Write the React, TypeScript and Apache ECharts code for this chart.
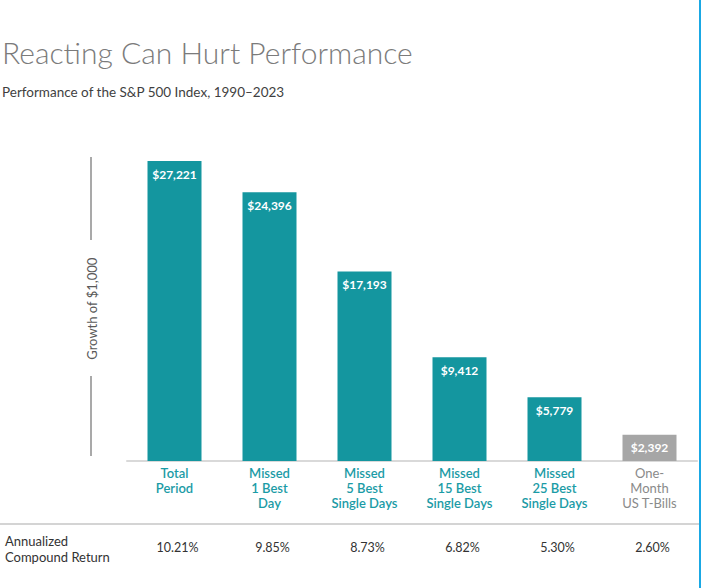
import React, { useEffect, useRef } from "react";
import * as echarts from "echarts";

const categories: string[][] = [
  ["Total", "Period"],
  ["Missed", "1 Best", "Day"],
  ["Missed", "5 Best", "Single Days"],
  ["Missed", "15 Best", "Single Days"],
  ["Missed", "25 Best", "Single Days"],
  ["One-", "Month", "US T-Bills"],
];
const growthValues = [27221, 24396, 17193, 9412, 5779, 2392];
const annualReturns = ["10.21%", "9.85%", "8.73%", "6.82%", "5.30%", "2.60%"];
const isBenchmark = [false, false, false, false, false, true];

const TEAL = "#14969f";
const GRAY_BAR = "#a6a6a6";

export default function App() {
  const ref = useRef<HTMLDivElement>(null);
  useEffect(() => {
    document.body.style.margin = "0";
    const chart = echarts.init(ref.current!, undefined, { renderer: "svg" });
    const font = "Lato, 'Noto Sans', sans-serif";
    const catKeys = categories.map((_, i) => String(i));
    chart.setOption({
      animation: false,
      backgroundColor: "#ffffff",
      title: {
        text: "Reacting Can Hurt Performance",
        subtext: "Performance of the S&P 500 Index, 1990–2023",
        left: 2,
        top: 37,
        itemGap: 18,
        padding: 0,
        textStyle: { fontFamily: font, fontSize: 30, fontWeight: 300, color: "#7b7b7b" },
        subtextStyle: { fontFamily: font, fontSize: 13.5, fontWeight: 400, color: "#3f3f3f" },
      },
      grid: { left: 127, width: 570, top: 130.4, height: 330.6 },
      xAxis: [
        {
          type: "category",
          data: catKeys,
          position: "bottom",
          axisLine: { show: true, lineStyle: { color: "#d9d9d9", width: 2 } },
          axisTick: { show: false },
          axisLabel: {
            margin: 4,
            interval: 0,
            formatter: (v: string) => {
              const i = Number(v);
              const tag = isBenchmark[i] ? "g" : "t";
              return categories[i].map((l) => `{${tag}|${l}}`).join("\n");
            },
            rich: {
              t: { fontFamily: font, fontSize: 13, fontWeight: 600, color: "#1b9ba6", lineHeight: 15, align: "center" },
              g: { fontFamily: font, fontSize: 13, fontWeight: 400, color: "#8a8a8a", lineHeight: 15, align: "center" },
            },
          },
        },
        {
          type: "category",
          data: annualReturns,
          position: "bottom",
          offset: 80,
          axisLine: { show: false },
          axisTick: { show: false },
          axisLabel: {
            margin: 0,
            interval: 0,
            fontFamily: font,
            fontSize: 12.5,
            color: "#333333",
            padding: [0, 0, 0, 6],
          },
        },
      ],
      yAxis: {
        type: "value",
        min: 0,
        max: 30000,
        axisLabel: { show: false },
        axisLine: { show: false },
        axisTick: { show: false },
        splitLine: { show: false },
        name: "Growth of $1,000",
        nameLocation: "middle",
        nameRotate: 90,
        nameGap: 29,
        nameTextStyle: { fontFamily: font, fontSize: 13, color: "#5a5a5a", padding: [0, 26, 0, 0] },
      },
      series: [
        {
          type: "bar",
          xAxisIndex: 0,
          barWidth: 54,
          data: growthValues.map((v, i) => ({
            value: v,
            itemStyle: { color: isBenchmark[i] ? GRAY_BAR : TEAL },
          })),
          label: {
            show: true,
            position: "insideTop",
            distance: 7,
            formatter: (p: any) => "$" + Number(p.value).toLocaleString("en-US"),
            fontFamily: font,
            fontSize: 12,
            fontWeight: "bold",
            color: "#ffffff",
          },
        },
      ],
      graphic: [
        { type: "line", shape: { x1: 91, y1: 157, x2: 91, y2: 240 }, style: { stroke: "#8c8c8c", lineWidth: 1.5 } },
        { type: "line", shape: { x1: 91, y1: 376, x2: 91, y2: 456 }, style: { stroke: "#8c8c8c", lineWidth: 1.5 } },
        { type: "line", shape: { x1: 0, y1: 524, x2: 699, y2: 524 }, style: { stroke: "#d4d4d4", lineWidth: 2 } },
        {
          type: "text",
          left: 5,
          top: 533,
          style: {
            text: "Annualized\nCompound Return",
            fontFamily: font,
            fontSize: 13,
            lineHeight: 16,
            fill: "#333333",
          },
        },
        { type: "rect", shape: { x: 699, y: 0, width: 2, height: 588 }, style: { fill: "#1aa8e4" } },
      ],
    });
    return () => chart.dispose();
  }, []);
  return <div ref={ref} style={{ width: 701, height: 588, position: "absolute", left: 0, top: 0 }} />;
}
